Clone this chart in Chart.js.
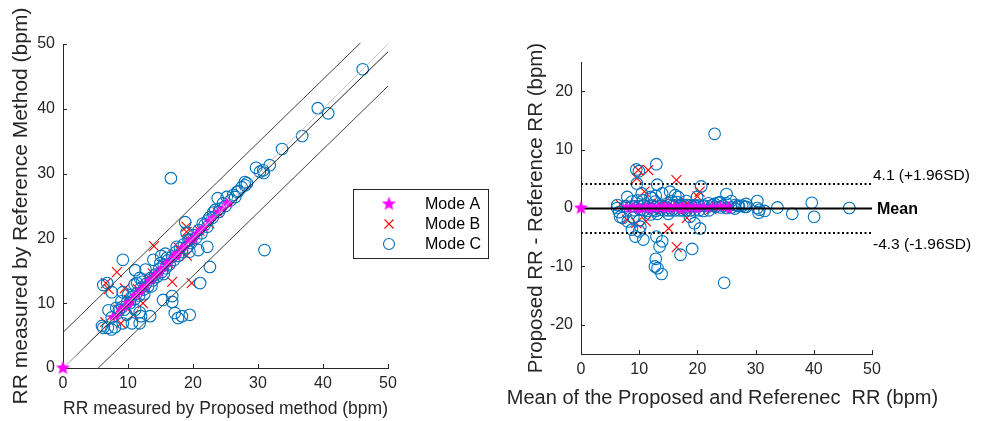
<!DOCTYPE html>
<html>
<head>
<meta charset="utf-8">
<script src="https://cdn.jsdelivr.net/npm/chart.js@4.4.1/dist/chart.umd.min.js"></script>
<style>
  html, body { margin: 0; padding: 0; background: #fff; }
  body { width: 987px; height: 421px; position: relative; overflow: hidden; }
  #agreementChart { position: absolute; left: 0; top: 0; }
  #blandAltmanChart { position: absolute; left: 500px; top: 0; }
</style>
</head>
<body>
<canvas id="agreementChart" width="500" height="421"></canvas>
<canvas id="blandAltmanChart" width="487" height="421"></canvas>
<script>
// ---- data ----
const axisTicks = [0, 10, 20, 30, 40, 50];
const diffTicks = [-20, -10, 0, 10, 20];

const modeAProposed = [0, 7.6, 8.3, 8.8, 9.4, 9.9, 10.4, 10.9, 11.4, 11.9, 12.3, 12.8, 13.2, 13.7, 14.1, 14.6, 15.0, 15.5, 15.9, 16.4, 16.9, 17.3, 17.8, 18.3, 18.8, 19.3, 19.9, 20.5, 21.1, 21.8, 22.4, 23.1, 23.8, 24.5, 25.2, 25.6, 12.0, 14.9, 17.5, 20.2, 10.1];
const modeAReference = [0, 7.8, 8.1, 9.1, 9.3, 10.1, 10.2, 11.2, 11.3, 12.1, 12.5, 12.7, 13.5, 13.6, 14.4, 14.5, 15.3, 15.4, 16.2, 16.3, 17.1, 17.6, 17.7, 18.6, 18.7, 19.6, 19.8, 20.7, 21.3, 21.7, 22.7, 23.2, 24.1, 24.6, 25.5, 25.3, 11.7, 14.7, 17.2, 20.0, 9.8];

const modeBProposed = [6.6, 8.3, 7.05, 9.5, 10.8, 8.9, 6.5, 12.3, 14.0, 16.8, 19.8, 19.0, 19.0, 19.05, 10.2, 12.5, 13.3, 14.2, 15.6, 16.3, 17.0, 18.1, 19.5, 21.0, 22.5, 11.5, 13.8, 8.5, 23.8, 17.8];
const modeBReference = [13.1, 14.8, 12.15, 12.3, 8.2, 6.9, 7.1, 10.0, 18.8, 13.3, 13.1, 21.8, 21.0, 17.35, 10.5, 12.3, 13.8, 14.0, 15.9, 16.1, 17.4, 18.0, 19.7, 21.2, 22.3, 12.2, 14.6, 9.0, 24.0, 18.6];

const modeCProposed = [46.1, 39.2, 40.8, 36.8, 33.7, 29.7, 30.8, 30.3, 31.8, 30.9, 28.0, 28.3, 27.5, 28.0, 26.2, 25.2, 23.8, 23.4, 22.6, 22.3, 26.8, 24.2, 24.6, 23.1, 21.5,
  18.8, 19.0, 19.5, 20.8, 22.2, 31.0, 22.6, 21.1, 16.6, 15.75, 13.9, 12.7, 11.1, 9.2, 15.0, 15.4, 16.8, 16.8, 17.2, 17.7, 18.3, 19.5, 13.4, 11.8, 10.6, 9.2, 8.0, 6.9, 6.2,
  7.0, 6.2, 6.8, 7.5, 9.2, 11.0, 11.4, 11.8, 11.1, 11.8, 12.0, 9.8, 9.1, 15.1, 19.45, 7.45,
  8.6, 9.4, 9.9, 10.3, 10.5, 11.0, 11.3, 11.7, 12.0, 12.4, 12.8, 13.1, 13.5, 13.8, 14.2, 14.5, 14.8, 15.2, 15.5, 15.8, 16.1, 16.4, 16.8, 17.1, 17.4, 17.7, 18.0, 18.3,
  18.6, 19.0, 19.3, 19.7, 20.1, 20.5, 20.9, 21.3, 21.8, 22.2, 23.0, 24.0, 25.0, 25.8, 26.5, 27.0, 7.5, 6.0, 8.2, 9.0, 10.0, 12.5, 13.6, 15.5, 17.5, 16.0, 12.2];
const modeCReference = [46.1, 40.1, 39.3, 35.8, 33.8, 30.9, 30.5, 30.3, 31.3, 30.1, 28.7, 28.5, 27.9, 28.2, 26.7, 26.4, 26.2, 24.4, 23.3, 22.8, 27.2, 24.6, 25.4, 24.0, 22.3,
  22.5, 20.9, 19.8, 18.2, 18.7, 18.2, 15.6, 13.1, 29.3, 17.65, 16.7, 15.2, 15.1, 16.7, 16.2, 10.5, 10.2, 11.1, 8.5, 7.7, 8.0, 8.2, 8.0, 6.9, 6.9, 6.9, 6.3, 6.2, 6.2,
  8.9, 12.8, 13.1, 11.7, 11.7, 12.9, 13.1, 13.9, 9.0, 8.6, 8.0, 8.2, 9.4, 17.3, 17.95, 5.95,
  8.9, 9.0, 10.2, 10.0, 10.9, 10.6, 11.5, 11.2, 12.4, 12.1, 13.0, 12.6, 13.9, 13.5, 14.4, 14.1, 15.3, 14.8, 15.9, 15.4, 16.6, 16.0, 17.2, 16.7, 17.9, 17.3, 18.5, 17.9,
  19.1, 18.6, 19.8, 19.3, 20.5, 20.1, 21.3, 20.8, 22.1, 21.8, 23.2, 24.1, 25.0, 25.9, 26.4, 27.3, 7.8, 6.5, 9.3, 10.3, 11.3, 11.4, 12.6, 14.5, 18.7, 17.0, 13.3];

// fitted lines on the agreement plot (x = 0 and x = 50)
const lineX = [0, 50];
const identityY = [0, 50];
const fitY = [0, 48.8];
const upperBandY = [5.5, 54.3];
const lowerBandY = [-5.3, 43.5];

// Bland-Altman reference lines
const meanDiff = -0.1;
const upperLimit = 4.1;
const lowerLimit = -4.3;
const limitLabels = ['4.1 (+1.96SD)', 'Mean', '-4.3 (-1.96SD)'];
const legendLabels = ['Mode A', 'Mode B', 'Mode C'];
const baXTitle = 'Mean of the Proposed and Referenec  RR (bpm)';

// ---- styling ----
const fontFamily = "'Liberation Sans', Arial, Helvetica, sans-serif";
const axisColor = '#262626';
const colorA = '#ff00ff';
const colorB = '#ff0000';
const colorC = '#0072bd';

function makeStar(radius, color) {
    const size = Math.ceil(radius * 2 + 2);
    const canvas = document.createElement('canvas');
    canvas.width = size;
    canvas.height = size;
    const ctx = canvas.getContext('2d');
    ctx.translate(size / 2, size / 2);
    ctx.beginPath();
    for (let i = 0; i < 10; i++) {
        const r = i % 2 === 0 ? radius : radius * 0.42;
        const a = -Math.PI / 2 + i * Math.PI / 5;
        ctx.lineTo(r * Math.cos(a), r * Math.sin(a));
    }
    ctx.closePath();
    ctx.fillStyle = color;
    ctx.fill();
    return canvas;
}

const starImage = makeStar(7.5, colorA);
const smallStar = makeStar(5.2, colorA);

function toPoints(xs, ys) {
    return xs.map(function (x, i) { return { x: x, y: ys[i] }; });
}

function toDifferences(proposed, reference) {
    return proposed.map(function (p, i) {
        return { x: (p + reference[i]) / 2, y: reference[i] - p };
    });
}

function markerSets(a, b, c) {
    return [
        { label: legendLabels[0], data: a, order: 1, clip: false, pointStyle: smallStar, pointRadius: 5,
          borderColor: colorA, backgroundColor: colorA },
        { label: legendLabels[2], data: c, order: 2, clip: false, pointStyle: 'circle', pointRadius: 5.8,
          borderColor: colorC, backgroundColor: 'transparent', borderWidth: 1.1 },
        { label: legendLabels[1], data: b, order: 3, clip: false, pointStyle: 'crossRot', pointRadius: 7,
          borderColor: colorB, backgroundColor: colorB, borderWidth: 1.1 }
    ];
}

function lineSet(xs, ys, color, width, dash) {
    return {
        data: toPoints(xs, ys), showLine: true, pointRadius: 0, order: 0,
        borderColor: color, borderWidth: width, borderDash: dash || [], clip: 1
    };
}

function fixedTicks(values) {
    return function (scale) {
        scale.ticks = values.map(function (v) { return { value: v }; });
    };
}

function buildScale(opts) {
    return {
        type: 'linear',
        min: opts.min,
        max: opts.max,
        afterBuildTicks: fixedTicks(opts.ticks),
        afterFit: opts.afterFit,
        grid: { display: false, drawTicks: false, tickLength: 0 },
        border: { display: true, color: axisColor, width: 1 },
        ticks: {
            color: axisColor, padding: opts.tickPadding, autoSkip: false, maxRotation: 0,
            font: { family: fontFamily, size: 16 }
        },
        title: {
            display: opts.title !== '', text: opts.title, color: axisColor, padding: opts.titlePadding,
            font: { family: fontFamily, size: opts.titleSize }
        }
    };
}

const inwardTicks = {
    id: 'inwardTicks',
    afterDraw: function (chart) {
        const ctx = chart.ctx;
        const area = chart.chartArea;
        ctx.save();
        ctx.strokeStyle = axisColor;
        ctx.lineWidth = 1;
        chart.scales.x.ticks.forEach(function (t) {
            const px = Math.round(chart.scales.x.getPixelForValue(t.value)) + 0.5;
            ctx.beginPath();
            ctx.moveTo(px, area.bottom);
            ctx.lineTo(px, area.bottom - 4);
            ctx.stroke();
        });
        chart.scales.y.ticks.forEach(function (t) {
            const py = Math.round(chart.scales.y.getPixelForValue(t.value)) + 0.5;
            ctx.beginPath();
            ctx.moveTo(area.left, py);
            ctx.lineTo(area.left + 4, py);
            ctx.stroke();
        });
        ctx.restore();
    }
};

// the first Mode A point (the origin) is drawn larger and over the axes, as in the reference
const originStar = {
    id: 'originStar',
    afterDraw: function (chart) {
        const first = chart.getDatasetMeta(0).data[0];
        chart.ctx.drawImage(starImage, first.x - starImage.width / 2, first.y - starImage.height / 2);
    }
};

const legendBox = {
    id: 'legendBox',
    afterDraw: function (chart) {
        const ctx = chart.ctx;
        ctx.save();
        ctx.fillStyle = '#fff';
        ctx.fillRect(353.5, 189.5, 135, 69);
        ctx.strokeStyle = axisColor;
        ctx.lineWidth = 1;
        ctx.strokeRect(353.5, 189.5, 135, 69);
        const rows = [204, 224, 244];
        // star
        ctx.drawImage(starImage, 389 - starImage.width / 2, rows[0] - starImage.height / 2);
        // cross
        ctx.strokeStyle = colorB;
        ctx.lineWidth = 1.1;
        ctx.beginPath();
        ctx.moveTo(384.5, rows[1] - 4.5); ctx.lineTo(393.5, rows[1] + 4.5);
        ctx.moveTo(393.5, rows[1] - 4.5); ctx.lineTo(384.5, rows[1] + 4.5);
        ctx.stroke();
        // circle
        ctx.strokeStyle = colorC;
        ctx.beginPath();
        ctx.arc(389, rows[2], 5.5, 0, Math.PI * 2);
        ctx.stroke();
        ctx.fillStyle = '#000';
        ctx.font = '16px ' + fontFamily;
        ctx.textBaseline = 'middle';
        legendLabels.forEach(function (label, i) {
            ctx.fillText(label, 425, rows[i] + 1);
        });
        ctx.restore();
    }
};

const limitText = {
    id: 'limitText',
    afterDraw: function (chart) {
        const ctx = chart.ctx;
        const y = chart.scales.y;
        const area = chart.chartArea;
        const x = area.right;
        ctx.save();
        ctx.fillStyle = '#000';
        ctx.textBaseline = 'middle';
        ctx.font = '15.5px ' + fontFamily;
        ctx.fillText(limitLabels[0], x + 1, y.getPixelForValue(upperLimit) - 8);
        ctx.fillText(limitLabels[2], x + 1, y.getPixelForValue(lowerLimit) + 12);
        ctx.font = 'bold 16px ' + fontFamily;
        ctx.fillText(limitLabels[1], x + 5, y.getPixelForValue(meanDiff) + 1);
        // x-axis title is wider than the axis, so it is drawn here without squeezing
        ctx.fillStyle = axisColor;
        ctx.font = '20px ' + fontFamily;
        ctx.textAlign = 'center';
        ctx.fillText(baXTitle, (area.left + area.right) / 2 - 4, 398);
        ctx.restore();
    }
};

const commonOptions = {
    responsive: false,
    animation: false,
    events: [],
    plugins: { legend: { display: false }, tooltip: { enabled: false } }
};

new Chart(document.getElementById('agreementChart'), {
    type: 'scatter',
    data: {
        datasets: markerSets(
            toPoints(modeAProposed, modeAReference),
            toPoints(modeBProposed, modeBReference),
            toPoints(modeCProposed, modeCReference)
        ).concat([
            lineSet(lineX, identityY, '#c8c8c8', 1),
            lineSet(lineX, fitY, '#1a1a1a', 1),
            lineSet(lineX, upperBandY, '#404040', 1),
            lineSet(lineX, lowerBandY, '#404040', 1)
        ])
    },
    options: Object.assign({}, commonOptions, {
        layout: { padding: { left: 0, right: 112, top: 44, bottom: 0 } },
        scales: {
            x: buildScale({
                min: 0, max: 50, ticks: axisTicks, tickPadding: 6,
                title: 'RR measured by Proposed method (bpm)', titleSize: 18,
                titlePadding: { top: 0, bottom: 1 },
                afterFit: function (s) { s.height = 53; }
            }),
            y: buildScale({
                min: 0, max: 50, ticks: axisTicks, tickPadding: 8,
                title: 'RR measured by Reference Method (bpm)', titleSize: 21,
                titlePadding: { top: 9, bottom: 0 },
                afterFit: function (s) { s.width = 63; }
            })
        }
    }),
    plugins: [inwardTicks, originStar, legendBox]
});

new Chart(document.getElementById('blandAltmanChart'), {
    type: 'scatter',
    data: {
        datasets: markerSets(
            toDifferences(modeAProposed, modeAReference),
            toDifferences(modeBProposed, modeBReference),
            toDifferences(modeCProposed, modeCReference)
        ).concat([
            lineSet(lineX, [meanDiff, meanDiff], '#000', 2),
            lineSet(lineX, [upperLimit, upperLimit], '#000', 2, [2, 2.5]),
            lineSet(lineX, [lowerLimit, lowerLimit], '#000', 2, [2, 2.5])
        ])
    },
    options: Object.assign({}, commonOptions, {
        layout: { padding: { left: 0, right: 115, top: 62, bottom: 0 } },
        scales: {
            x: buildScale({
                min: 0, max: 50, ticks: axisTicks, tickPadding: 6,
                title: '', titleSize: 18,
                titlePadding: { top: 0, bottom: 0 },
                afterFit: function (s) { s.height = 67; }
            }),
            y: buildScale({
                min: -25, max: 25, ticks: diffTicks, tickPadding: 8,
                title: 'Proposed RR - Reference RR (bpm)', titleSize: 20.5,
                titlePadding: { top: 24, bottom: 0 },
                afterFit: function (s) { s.width = 81; }
            })
        }
    }),
    plugins: [inwardTicks, originStar, limitText]
});
</script>
</body>
</html>
